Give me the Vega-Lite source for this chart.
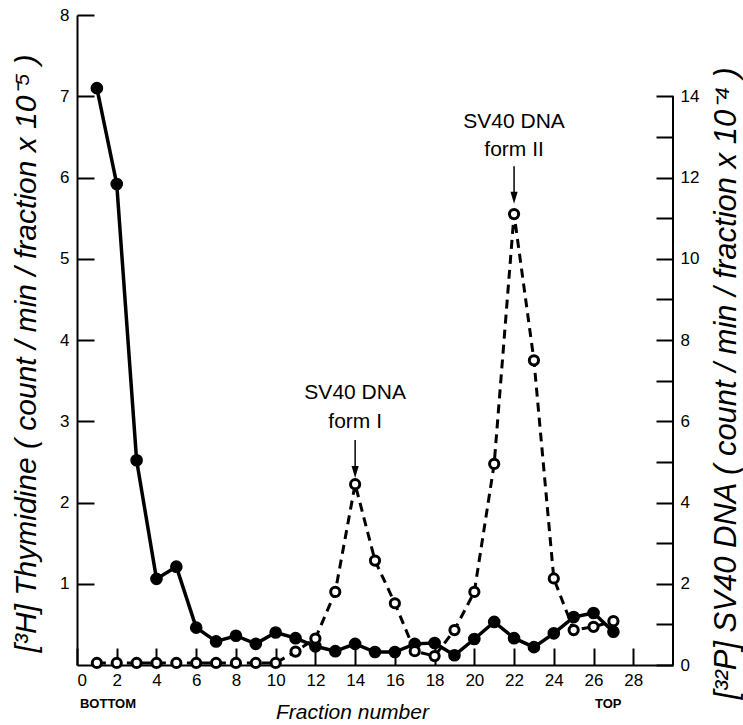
{
  "$schema": "https://vega.github.io/schema/vega-lite/v6.json",
  "width": 596,
  "height": 650,
  "autosize": {"type": "none"},
  "padding": {"left": 77, "top": 15, "right": 70, "bottom": 60},
  "background": "white",
  "config": {
    "view": {"stroke": null},
    "font": "Liberation Sans",
    "axis": {
      "domainColor": "black",
      "domainWidth": 2,
      "tickColor": "black",
      "tickWidth": 2,
      "tickSize": -17,
      "labelColor": "black",
      "labelFont": "Liberation Sans",
      "labelFontSize": 17,
      "titleColor": "black",
      "titleFont": "Liberation Sans",
      "titleFontStyle": "italic",
      "titleFontWeight": "normal",
      "titleFontSize": 30,
      "grid": false
    }
  },
  "datasets": {
    "main": [
      {"f": 1, "h": 7.1, "p": 0.05},
      {"f": 2, "h": 5.92, "p": 0.05},
      {"f": 3, "h": 2.52, "p": 0.05},
      {"f": 4, "h": 1.06, "p": 0.05},
      {"f": 5, "h": 1.21, "p": 0.05},
      {"f": 6, "h": 0.46, "p": 0.05},
      {"f": 7, "h": 0.29, "p": 0.05},
      {"f": 8, "h": 0.36, "p": 0.05},
      {"f": 9, "h": 0.26, "p": 0.05},
      {"f": 10, "h": 0.4, "p": 0.05},
      {"f": 11, "h": 0.33, "p": 0.33},
      {"f": 12, "h": 0.23, "p": 0.65},
      {"f": 13, "h": 0.17, "p": 1.8},
      {"f": 14, "h": 0.26, "p": 4.45},
      {"f": 15, "h": 0.16, "p": 2.57},
      {"f": 16, "h": 0.16, "p": 1.52},
      {"f": 17, "h": 0.26, "p": 0.34},
      {"f": 18, "h": 0.27, "p": 0.22},
      {"f": 19, "h": 0.12, "p": 0.86},
      {"f": 20, "h": 0.32, "p": 1.8},
      {"f": 21, "h": 0.53, "p": 4.95},
      {"f": 22, "h": 0.33, "p": 11.1},
      {"f": 23, "h": 0.22, "p": 7.5},
      {"f": 24, "h": 0.39, "p": 2.13},
      {"f": 25, "h": 0.59, "p": 0.86},
      {"f": 26, "h": 0.64, "p": 0.94},
      {"f": 27, "h": 0.41, "p": 1.08}
    ],
    "notes": [
      {"x": 14, "y": 3.35, "text": "SV40 DNA"},
      {"x": 14, "y": 2.99, "text": "form I"},
      {"x": 22, "y": 6.68, "text": "SV40 DNA"},
      {"x": 22, "y": 6.34, "text": "form II"}
    ],
    "arrows": [
      {"x": 14, "y1": 2.77, "y2": 2.4, "head": 2.375},
      {"x": 22, "y1": 6.14, "y2": 5.77, "head": 5.75}
    ],
    "ends": [
      {"x": 1.56, "y": -0.48, "text": "BOTTOM"},
      {"x": 26.74, "y": -0.48, "text": "TOP"}
    ]
  },
  "layer": [
    {
      "layer": [
        {
          "data": {"name": "main"},
          "mark": {"type": "line", "color": "black", "strokeWidth": 3.5},
          "encoding": {
            "x": {"field": "f", "type": "quantitative", "scale": {"domain": [0, 30]},
              "axis": {"values": [0,2,4,6,8,10,12,14,16,18,20,22,24,26,28], "format": "d", "labelPadding": 24, "title": "Fraction number", "titleFontSize": 21, "titleX": 275, "titleY": 47, "titleBaseline": "middle", "titleAlign": "center"}},
            "y": {"field": "h", "type": "quantitative", "scale": {"domain": [0, 8]},
              "axis": {"orient": "left", "values": [1,2,3,4,5,6,7,8], "format": "d", "labelPadding": 25, "title": "[³H] Thymidine ( count / min / fraction x 10⁻⁵ )", "titleAngle": 270, "titleX": -51, "titleY": 338, "titleBaseline": "middle", "titleAlign": "center"}}
          }
        },
        {
          "data": {"name": "main"},
          "mark": {"type": "point", "shape": "circle", "filled": true, "color": "black", "size": 160, "opacity": 1},
          "encoding": {
            "x": {"field": "f", "type": "quantitative"},
            "y": {"field": "h", "type": "quantitative"}
          }
        },
        {
          "data": {"name": "notes"},
          "mark": {"type": "text", "fontSize": 21, "font": "Liberation Sans", "color": "black", "baseline": "middle", "align": "center"},
          "encoding": {
            "x": {"field": "x", "type": "quantitative"},
            "y": {"field": "y", "type": "quantitative"},
            "text": {"field": "text"}
          }
        },
        {
          "data": {"name": "arrows"},
          "mark": {"type": "rule", "color": "black", "strokeWidth": 1.5},
          "encoding": {
            "x": {"field": "x", "type": "quantitative"},
            "y": {"field": "y1", "type": "quantitative"},
            "y2": {"field": "y2"}
          }
        },
        {
          "data": {"name": "arrows"},
          "mark": {"type": "point", "shape": "M-0.6,-1L0.6,-1L0,1Z", "filled": true, "color": "black", "size": 144, "opacity": 1},
          "encoding": {
            "x": {"field": "x", "type": "quantitative"},
            "y": {"field": "head", "type": "quantitative"}
          }
        },
        {
          "data": {"name": "ends"},
          "mark": {"type": "text", "fontSize": 13, "fontWeight": "bold", "font": "Liberation Sans", "color": "black", "baseline": "middle", "align": "center", "clip": false},
          "encoding": {
            "x": {"field": "x", "type": "quantitative"},
            "y": {"field": "y", "type": "quantitative"},
            "text": {"field": "text"}
          }
        }
      ]
    },
    {
      "layer": [
        {
          "data": {"name": "main"},
          "mark": {"type": "line", "color": "black", "strokeWidth": 3, "strokeDash": [9, 6]},
          "encoding": {
            "x": {"field": "f", "type": "quantitative"},
            "y": {"field": "p", "type": "quantitative", "scale": {"domain": [0, 16]},
              "axis": {"orient": "right", "domain": false, "values": [0,1,2,3,4,5,6,7,8,9,10,11,12,13,14], "labelExpr": "datum.value % 2 === 0 ? datum.label : ''", "labelPadding": 24, "title": "[³²P] SV40 DNA ( count / min / fraction x 10⁻⁴ )", "titleFontSize": 31, "titleAngle": 270, "titleX": 53, "titleY": 368, "titleBaseline": "middle", "titleAlign": "center"}}
          }
        },
        {
          "data": {"name": "main"},
          "mark": {"type": "point", "shape": "circle", "filled": true, "fill": "white", "stroke": "black", "strokeWidth": 3, "size": 85, "opacity": 1},
          "encoding": {
            "x": {"field": "f", "type": "quantitative"},
            "y": {"field": "p", "type": "quantitative"}
          }
        },
        {
          "data": {"values": [{"x": 30, "y1": 0, "y2": 14}]},
          "mark": {"type": "rule", "color": "black", "strokeWidth": 2},
          "encoding": {
            "x": {"field": "x", "type": "quantitative"},
            "y": {"field": "y1", "type": "quantitative"},
            "y2": {"field": "y2"}
          }
        }
      ]
    }
  ],
  "resolve": {"scale": {"y": "independent"}}
}
